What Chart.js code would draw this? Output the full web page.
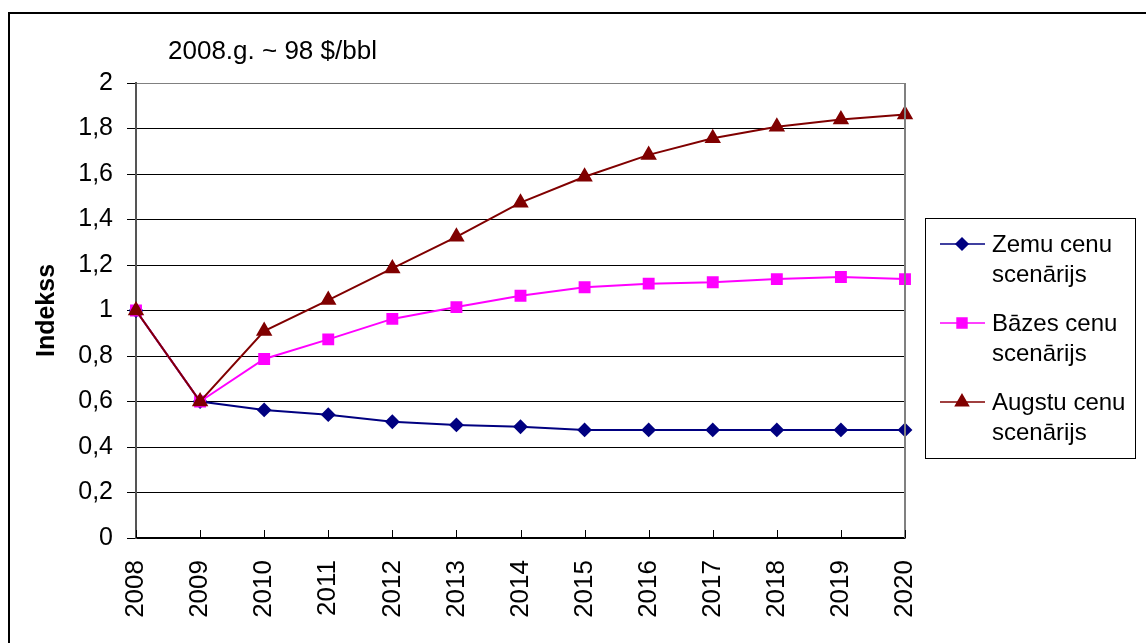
<!DOCTYPE html>
<html>
<head>
<meta charset="utf-8">
<script src="https://cdn.jsdelivr.net/npm/chart.js@4.4.1/dist/chart.umd.min.js"></script>
<style>
  html, body { margin: 0; padding: 0; background: #fff; }
  #wrap { width: 1146px; height: 643px; position: relative; }
</style>
</head>
<body>
<div id="wrap"><canvas id="c" width="1146" height="643"></canvas></div>
<script>
// Oil price index scenarios, 2008 = 1
const years = ['2008','2009','2010','2011','2012','2013','2014','2015','2016','2017','2018','2019','2020'];
const lowPrice  = [1, 0.6, 0.563, 0.542, 0.511, 0.497, 0.489, 0.475, 0.475, 0.475, 0.475, 0.475, 0.475];
const basePrice = [1, 0.6, 0.787, 0.873, 0.963, 1.015, 1.065, 1.102, 1.118, 1.124, 1.138, 1.147, 1.138];
const highPrice = [1, 0.6, 0.91, 1.046, 1.185, 1.324, 1.474, 1.588, 1.684, 1.757, 1.808, 1.840, 1.862];
const seriesNames = [['Zemu cenu', 'scenārijs'], ['Bāzes cenu', 'scenārijs'], ['Augstu cenu', 'scenārijs']];
const yTicks = [0, 0.2, 0.4, 0.6, 0.8, 1, 1.2, 1.4, 1.6, 1.8, 2];
const noteText = '2008.g. ~ 98 $/bbl';
const axisTitle = 'Indekss';

const FONT = 'Liberation Sans, Arial, sans-serif';

const frame = {
  id: 'frame',
  beforeDraw(chart) {
    const ctx = chart.ctx;
    ctx.save();
    ctx.strokeStyle = '#000';
    ctx.lineWidth = 2;
    ctx.strokeRect(9, 13, 2000, 2000);
    ctx.restore();
  },
  afterDraw(chart) {
    const ctx = chart.ctx;
    const a = chart.chartArea;
    const xs = chart.scales.x;
    ctx.save();
    // right edge of the plot area
    ctx.strokeStyle = '#808080';
    ctx.lineWidth = 2;
    ctx.beginPath();
    ctx.moveTo(a.right, a.top);
    ctx.lineTo(a.right, a.bottom);
    ctx.stroke();
    // inward tick marks on the category axis
    ctx.strokeStyle = '#000';
    ctx.lineWidth = 1;
    for (let i = 0; i < years.length; i++) {
      const px = Math.round(xs.getPixelForTick(i)) + 0.5;
      ctx.beginPath();
      ctx.moveTo(px, a.bottom);
      ctx.lineTo(px, a.bottom - 8);
      ctx.stroke();
    }
    // note above the plot
    ctx.fillStyle = '#000';
    ctx.font = '26px ' + FONT;
    ctx.textAlign = 'left';
    ctx.textBaseline = 'middle';
    ctx.fillText(noteText, 168, 52);

    // legend box
    const bx = 925, by = 218, bw = 210, bh = 240;
    ctx.fillStyle = '#fff';
    ctx.fillRect(bx, by, bw, bh);
    ctx.strokeStyle = '#000';
    ctx.lineWidth = 1;
    ctx.strokeRect(bx + 0.5, by + 0.5, bw, bh);
    const rowY = [244, 323, 402];
    chart.data.datasets.forEach((ds, i) => {
      const y = rowY[i];
      ctx.strokeStyle = ds.borderColor;
      ctx.lineWidth = 1.5;
      ctx.beginPath();
      ctx.moveTo(940, y);
      ctx.lineTo(985, y);
      ctx.stroke();
      ctx.fillStyle = ds.pointBackgroundColor;
      ctx.strokeStyle = ds.pointBorderColor;
      Chart.helpers.drawPoint(ctx, { pointStyle: ds.pointStyle, radius: ds.pointRadius, borderWidth: 1, rotation: 0 }, 962, y);
      ctx.fillStyle = '#000';
      ctx.font = '24px ' + FONT;
      ctx.textAlign = 'left';
      ctx.textBaseline = 'middle';
      ctx.fillText(seriesNames[i][0], 992, y + 1);
      ctx.fillText(seriesNames[i][1], 992, y + 31);
    });
    ctx.restore();
  }
};

new Chart(document.getElementById('c'), {
  type: 'line',
  data: {
    labels: years,
    datasets: [
      {
        label: seriesNames[0].join(' '),
        data: lowPrice,
        borderColor: '#000080',
        backgroundColor: '#000080',
        pointBackgroundColor: '#000080',
        pointBorderColor: '#000080',
        pointStyle: 'rectRot',
        pointRadius: 6,
        borderWidth: 2,
        order: 2,
        clip: false
      },
      {
        label: seriesNames[1].join(' '),
        data: basePrice,
        borderColor: '#FF00FF',
        backgroundColor: '#FF00FF',
        pointBackgroundColor: '#FF00FF',
        pointBorderColor: '#FF00FF',
        pointStyle: 'rect',
        pointRadius: 7,
        borderWidth: 2,
        order: 1,
        clip: false
      },
      {
        label: seriesNames[2].join(' '),
        data: highPrice,
        borderColor: '#800000',
        backgroundColor: '#800000',
        pointBackgroundColor: '#800000',
        pointBorderColor: '#800000',
        pointStyle: 'triangle',
        pointRadius: 7.5,
        borderWidth: 2,
        order: 0,
        clip: false
      }
    ]
  },
  options: {
    responsive: false,
    animation: false,
    devicePixelRatio: 1,
    layout: { padding: { left: 0, top: 83, right: 241, bottom: 0 } },
    plugins: {
      legend: { display: false },
      tooltip: { enabled: false },
      title: { display: false }
    },
    elements: { line: { tension: 0 } },
    scales: {
      x: {
        type: 'category',
        offset: false,
        afterFit(s) { s.height = 105; },
        grid: { display: false, drawTicks: false },
        border: { display: true, color: '#000', width: 1.5 },
        ticks: {
          color: '#000',
          font: { family: FONT, size: 26 },
          minRotation: 90,
          maxRotation: 90,
          padding: 22,
          autoSkip: false
        }
      },
      y: {
        min: 0,
        max: 2,
        afterFit(s) { s.width = 136; },
        afterBuildTicks(s) { s.ticks = yTicks.map(v => ({ value: v })); },
        grid: {
          color: ctx => (ctx.tick && ctx.tick.value === 2 ? '#808080' : '#000'),
          lineWidth: 1,
          tickLength: 9,
          tickColor: '#000'
        },
        border: { display: true, color: '#555', width: 2 },
        ticks: {
          color: '#000',
          font: { family: FONT, size: 25 },
          padding: 14,
          callback: v => String(Number(v.toFixed(1))).replace('.', ',')
        },
        title: {
          display: true,
          text: axisTitle,
          color: '#000',
          font: { family: FONT, size: 25, weight: 'bold' },
          padding: { top: 32, bottom: 0 }
        }
      }
    }
  },
  plugins: [frame]
});
</script>
</body>
</html>
